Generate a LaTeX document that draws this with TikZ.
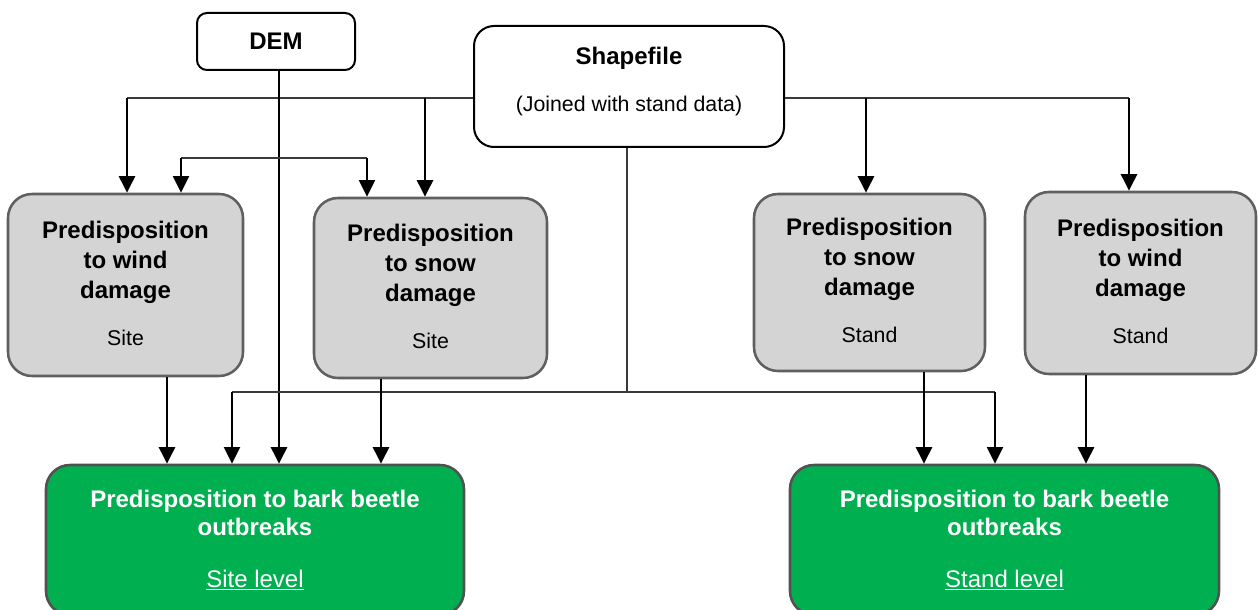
\documentclass[tikz,border=0pt]{standalone}
\usepackage{fontspec}
\setmainfont{Liberation Sans}
\usetikzlibrary{arrows.meta}
\definecolor{boxgray}{HTML}{D4D4D4}
\definecolor{edgegray}{HTML}{5F5F5F}
\definecolor{leafgreen}{HTML}{00B050}
\definecolor{wiregray}{HTML}{3A3A3A}
\newcommand{\hd}[1]{\textbf{#1}}
\newcommand{\sm}[1]{{\fontsize{16}{19}\selectfont #1}}
\tikzset{
  srcbox/.style={draw=black, line width=1.5pt, fill=white, inner sep=0pt,
    font=\fontsize{18}{21.5}\selectfont, align=center},
  factorbox/.style={draw=edgegray, line width=1.9pt, fill=boxgray,
    rounded corners=18pt, inner sep=0pt, align=center, text depth=3pt,
    minimum width=174pt, font=\fontsize{18}{22.5}\selectfont},
  resultbox/.style={draw=edgegray!85!black, line width=1.9pt, fill=leafgreen,
    rounded corners=18pt, inner sep=0pt, align=center, text=white,
    minimum height=112.5pt, font=\fontsize{18}{21}\selectfont},
  arr/.style={draw=black, line width=2pt, -{Triangle[width=12pt,length=12.5pt]}},
  arrthin/.style={draw=black, line width=1.5pt, -{Triangle[width=12pt,length=12.5pt]}},
  wire/.style={draw=wiregray, line width=1.1pt},
}
\begin{document}
\begin{tikzpicture}[x=0.75pt, y=-0.75pt]
\useasboundingbox (0,0) rectangle (1258,610);

% data sources
\node[srcbox, rounded corners=7.5pt, minimum width=118.5pt, minimum height=42.75pt]
  (dem) at (276,41.5) {\hd{DEM}};
\node[srcbox, rounded corners=15pt, minimum width=232.5pt, minimum height=90.75pt,
  text depth=11pt]
  (shp) at (629,86.5) {\hd{Shapefile}\\[14pt]\sm{(Joined with stand data)}};

% damage predisposition factors
\node[factorbox, minimum width=176.25pt, minimum height=136.5pt] (ws) at (125.5,285)
  {\hd{Predisposition}\\\hd{to wind}\\\hd{damage}\\[13pt]\sm{Site}};
\node[factorbox, minimum width=174.75pt, minimum height=135pt] (ss) at (430.5,288)
  {\hd{Predisposition}\\\hd{to snow}\\\hd{damage}\\[13pt]\sm{Site}};
\node[factorbox, minimum width=173.25pt, minimum height=132.75pt] (st) at (869.5,282.5)
  {\hd{Predisposition}\\\hd{to snow}\\\hd{damage}\\[13pt]\sm{Stand}};
\node[factorbox, minimum width=173.25pt, minimum height=136.5pt] (wt) at (1140.5,283)
  {\hd{Predisposition}\\\hd{to wind}\\\hd{damage}\\[13pt]\sm{Stand}};

% bark beetle predisposition results
\node[resultbox, minimum width=313.5pt] (gs) at (255,540)
  {\hd{Predisposition to bark beetle}\\\hd{outbreaks}\\[18pt]\underline{Site level}};
\node[resultbox, minimum width=321.75pt] (gt) at (1004.5,540)
  {\hd{Predisposition to bark beetle}\\\hd{outbreaks}\\[18pt]\underline{Stand level}};

% junction points
\coordinate (jL) at (127,98);
\coordinate (jL2) at (425,98);
\coordinate (jR) at (1129,98);
\coordinate (jR2) at (866,98);
\coordinate (dx) at (279,158);
\coordinate (bL) at (181,158);
\coordinate (bR) at (367,158);
\coordinate (sj) at (627,392);
\coordinate (cL) at (232,392);
\coordinate (cR) at (995,392);
\coordinate (x1) at (167,0);
\coordinate (x2) at (381,0);
\coordinate (x3) at (924,0);
\coordinate (x4) at (1086,0);

% shapefile to the factor boxes
\draw[wire] (shp.west |- jL) -- (jL);
\draw[arr] (jL) -- (jL |- ws.north);
\draw[arr] (jL2) -- (jL2 |- ss.north);
\draw[wire] (shp.east |- jR) -- (jR);
\draw[arr] (jR) -- (jR |- wt.north);
\draw[arr] (jR2) -- (jR2 |- st.north);

% DEM to the site level
\draw[arr] (dem.south -| dx) -- (gs.north -| dx);
\draw[wire] (bL) -- (bR);
\draw[arrthin] (bL) -- (bL |- ws.north);
\draw[arrthin] (bR) -- (bR |- ss.north);

% shapefile straight to both results
\draw[wire] (shp.south -| sj) -- (sj);
\draw[wire] (cL) -- (cR);
\draw[arrthin] (cL) -- (cL |- gs.north);
\draw[arrthin] (cR) -- (cR |- gt.north);

% factor boxes to results
\draw[arr] (ws.south -| x1) -- (gs.north -| x1);
\draw[arr] (ss.south -| x2) -- (gs.north -| x2);
\draw[arr] (st.south -| x3) -- (gt.north -| x3);
\draw[arr] (wt.south -| x4) -- (gt.north -| x4);
\end{tikzpicture}
\end{document}
